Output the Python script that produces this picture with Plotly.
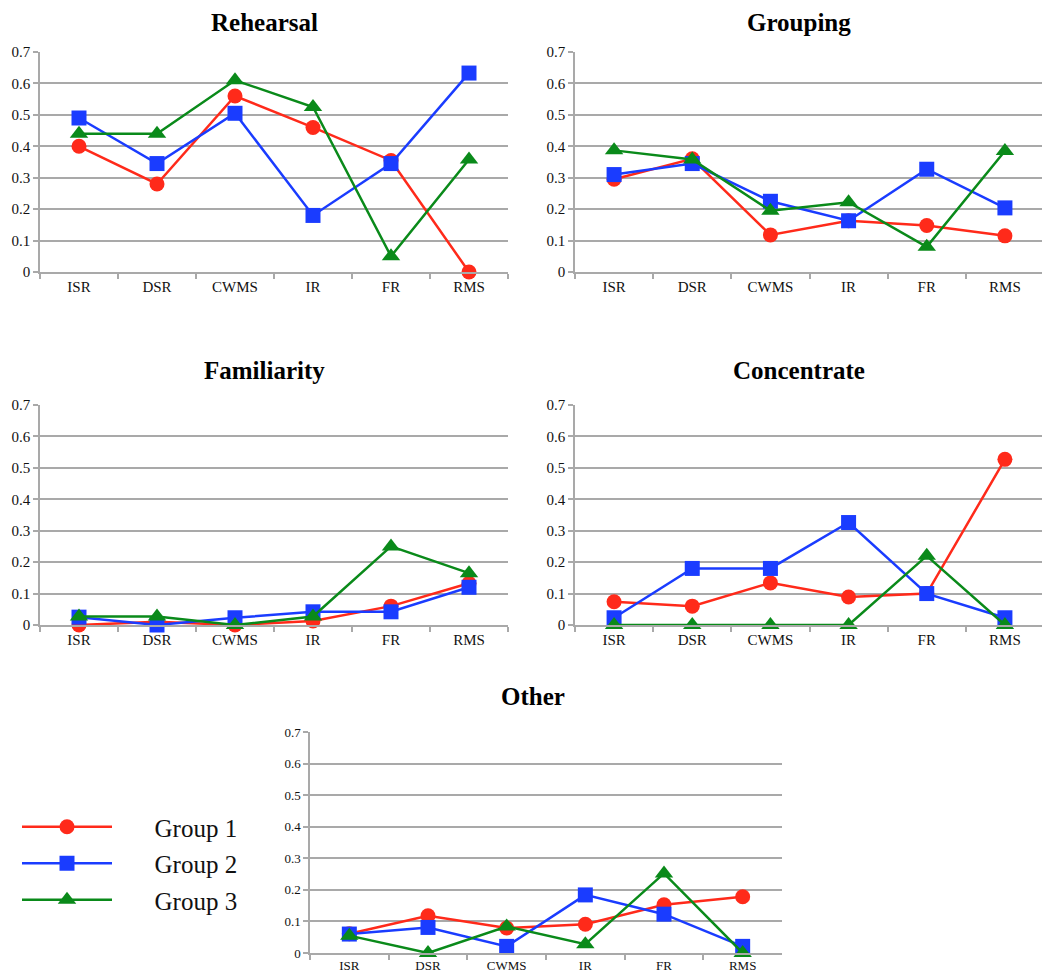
import plotly.graph_objects as go

# page body has an 8px margin, so figure coordinates = screen - 8
OFF = 8
W, H = 1042, 971

categories = ["ISR", "DSR", "CWMS", "IR", "FR", "RMS"]
group_names = ["Group 1", "Group 2", "Group 3"]
panel_titles = ["Rehearsal", "Grouping", "Familiarity", "Concentrate", "Other"]

rehearsal_g1 = [0.40, 0.28, 0.56, 0.46, 0.355, 0.0]
rehearsal_g2 = [0.49, 0.345, 0.505, 0.18, 0.345, 0.633]
rehearsal_g3 = [0.44, 0.44, 0.61, 0.525, 0.05, 0.358]

grouping_g1 = [0.295, 0.36, 0.118, 0.163, 0.148, 0.115]
grouping_g2 = [0.31, 0.345, 0.225, 0.163, 0.327, 0.204]
grouping_g3 = [0.387, 0.358, 0.195, 0.222, 0.08, 0.385]

familiarity_g1 = [0.0, 0.01, 0.0, 0.013, 0.06, 0.133]
familiarity_g2 = [0.025, 0.0, 0.023, 0.042, 0.042, 0.12]
familiarity_g3 = [0.027, 0.027, 0.0, 0.027, 0.25, 0.165]

concentrate_g1 = [0.074, 0.06, 0.134, 0.089, 0.10, 0.527]
concentrate_g2 = [0.023, 0.18, 0.18, 0.326, 0.10, 0.023]
concentrate_g3 = [0.0, 0.0, 0.0, 0.0, 0.22, 0.0]

other_g1 = [0.061, 0.118, 0.079, 0.091, 0.153, 0.178]
other_g2 = [0.06, 0.081, 0.021, 0.184, 0.123, 0.021]
other_g3 = [0.055, 0.0, 0.084, 0.028, 0.252, 0.0]

y_ticks = [0, 0.1, 0.2, 0.3, 0.4, 0.5, 0.6, 0.7]
y_ticktext = ["0", "0.1", "0.2", "0.3", "0.4", "0.5", "0.6", "0.7"]

panels = [
    (rehearsal_g1, rehearsal_g2, rehearsal_g3),
    (grouping_g1, grouping_g2, grouping_g3),
    (familiarity_g1, familiarity_g2, familiarity_g3),
    (concentrate_g1, concentrate_g2, concentrate_g3),
    (other_g1, other_g2, other_g3),
]

colors = ["#ff2a1a", "#1a3cff", "#0a8a1a"]
symbols = ["circle", "square", "triangle-up"]
msizes = [15, 15, 16]

# screen-pixel boxes (left, right, top, bottom) of each plot area
boxes = [
    (40, 508, 52, 272),
    (575, 1044, 52, 272),
    (40, 508, 405, 625),
    (575, 1044, 405, 625),
    (310, 782, 732, 953),
]
# (x centre, top of title box) in screen pixels
title_pos = [(264, 8), (799, 8), (264, 356), (799, 356), (533, 682)]


def px(x):
    return min(max((x - OFF) / W, 0), 1)


def py(y):
    return min(max(1 - (y - OFF) / H, 0), 1)


SERIF = "Liberation Serif, Times New Roman, serif"
GRID = "#a9a9a9"

fig = go.Figure()
layout_axes = {}
annotations = []

for i, (series, box) in enumerate(zip(panels, boxes)):
    n = i + 1
    xa = "x" if n == 1 else f"x{n}"
    ya = "y" if n == 1 else f"y{n}"
    for g in range(3):
        fig.add_trace(go.Scatter(
            x=categories, y=series[g], xaxis=xa, yaxis=ya,
            mode="lines+markers", name="\u2003\u2002" + group_names[g],
            legendgroup=group_names[g], showlegend=(i == 0),
            line=dict(color=colors[g], width=2.5),
            marker=dict(symbol=symbols[g], size=msizes[g], color=colors[g]),
            cliponaxis=False,
        ))
    l, r, t, b = box
    tickfs = 13 if n == 5 else 15
    layout_axes[f"xaxis{'' if n == 1 else n}"] = dict(
        domain=[px(l), px(r)], anchor=ya, type="category",
        categoryorder="array", categoryarray=categories,
        range=[-0.5, 5.5], tickson="boundaries", ticks="outside",
        ticklen=5, tickcolor=GRID, tickwidth=1.5,
        showline=True, linecolor=GRID, linewidth=1.5,
        showgrid=False, zeroline=False, fixedrange=True, automargin=False,
        tickfont=dict(family=SERIF, size=tickfs, color="#111"),
    )
    layout_axes[f"yaxis{'' if n == 1 else n}"] = dict(
        domain=[py(b), py(t)], anchor=xa,
        range=[0, 0.7], tickvals=y_ticks, ticktext=y_ticktext,
        ticks="outside", ticklen=5, tickcolor=GRID, tickwidth=1.5,
        showline=True, linecolor=GRID, linewidth=1.5,
        showgrid=True, gridcolor=GRID, gridwidth=1.5,
        zeroline=False, fixedrange=True, automargin=False,
        tickfont=dict(family=SERIF, size=tickfs, color="#111"),
    )
    tx, ty = title_pos[i]
    annotations.append(dict(
        text=f"<b>{panel_titles[i]}</b>", x=px(tx), y=py(ty),
        xref="paper", yref="paper", xanchor="center", yanchor="top",
        borderpad=0, showarrow=False,
        font=dict(family=SERIF, size=25, color="#000"),
    ))

fig.update_layout(
    width=W, height=H, margin=dict(l=0, r=0, t=0, b=0, autoexpand=False),
    paper_bgcolor="white", plot_bgcolor="white",
    annotations=annotations,
    showlegend=True,
    legend=dict(
        x=px(17), y=py(804), xanchor="left", yanchor="top",
        font=dict(family=SERIF, size=25, color="#111"),
        itemwidth=90, bgcolor="rgba(0,0,0,0)", tracegroupgap=1,
    ),
    **layout_axes,
)

fig.write_html("out.html")
